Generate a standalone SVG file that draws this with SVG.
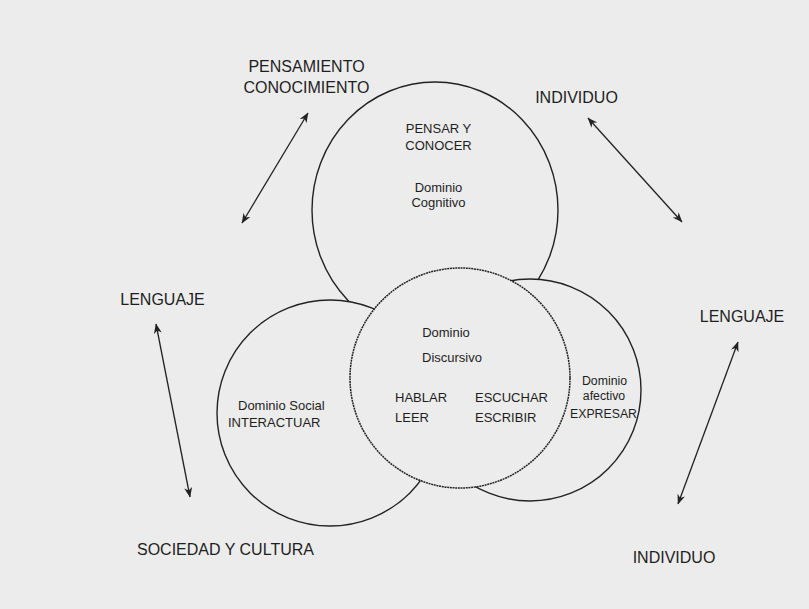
<svg xmlns="http://www.w3.org/2000/svg" width="809" height="609" viewBox="0 0 809 609">
<defs>
<marker id="ah" viewBox="0 0 10 8" refX="9.5" refY="4" markerWidth="10" markerHeight="8" markerUnits="userSpaceOnUse" orient="auto-start-reverse">
<path d="M0,0 L10,4 L0,8 L3,4 z" fill="#222"/>
</marker>
</defs>
<style>
.bg{fill:#ececec}
.c{fill:#ececec;stroke:#222;stroke-width:1.4}
.d{fill:#ececec;stroke:#222;stroke-width:1.5;stroke-dasharray:2 0.7}
.a{fill:none;stroke:#222;stroke-width:1.3;marker-start:url(#ah);marker-end:url(#ah)}
text{font-family:"Liberation Sans",Arial,sans-serif;fill:#1e1e1e}
.l{font-size:16px}
.s{font-size:13px}
.t{font-size:12.3px}
.m{text-anchor:middle}
</style>
<rect class="bg" x="0" y="0" width="809" height="609"/>
<g id="labels">
<text class="l m" x="306.5" y="72">PENSAMIENTO</text>
<text class="l m" x="306.5" y="93">CONOCIMIENTO</text>
<text class="l m" x="576.5" y="103">INDIVIDUO</text>
<text class="l m" x="162.5" y="305">LENGUAJE</text>
<text class="l m" x="742" y="322">LENGUAJE</text>
<text class="l" x="137" y="555">SOCIEDAD Y CULTURA</text>
<text class="l m" x="674" y="563">INDIVIDUO</text>
</g>
<g id="cognitivo">
<ellipse class="c" cx="435" cy="210" rx="123" ry="128"/>
<text class="s m" x="438.5" y="133">PENSAR Y</text>
<text class="s m" x="438.5" y="150">CONOCER</text>
<text class="s m" x="438.5" y="192">Dominio</text>
<text class="s m" x="438.5" y="207">Cognitivo</text>
</g>
<g id="social">
<circle class="c" cx="330" cy="413" r="113"/>
<text class="s" x="238" y="410">Dominio Social</text>
<text class="s" x="228" y="427">INTERACTUAR</text>
</g>
<g id="afectivo">
<circle class="c" cx="530" cy="390" r="111"/>
<text class="t m" x="604.5" y="385">Dominio</text>
<text class="t m" x="604" y="400">afectivo</text>
<text class="t m" x="603.5" y="418">EXPRESAR</text>
</g>
<g id="discursivo">
<circle class="d" cx="460" cy="378" r="110"/>
<text class="s m" x="446" y="337">Dominio</text>
<text class="s m" x="452" y="362">Discursivo</text>
<text class="s" x="395" y="402">HABLAR</text>
<text class="s" x="475" y="402">ESCUCHAR</text>
<text class="s" x="395" y="422">LEER</text>
<text class="s" x="475" y="422">ESCRIBIR</text>
</g>
<g id="connectors">
<line class="a" x1="242" y1="223" x2="308" y2="113"/>
<line class="a" x1="588" y1="118" x2="682" y2="222"/>
<line class="a" x1="190" y1="497" x2="156" y2="324"/>
<line class="a" x1="678" y1="504" x2="738" y2="342"/>
</g>
</svg>
